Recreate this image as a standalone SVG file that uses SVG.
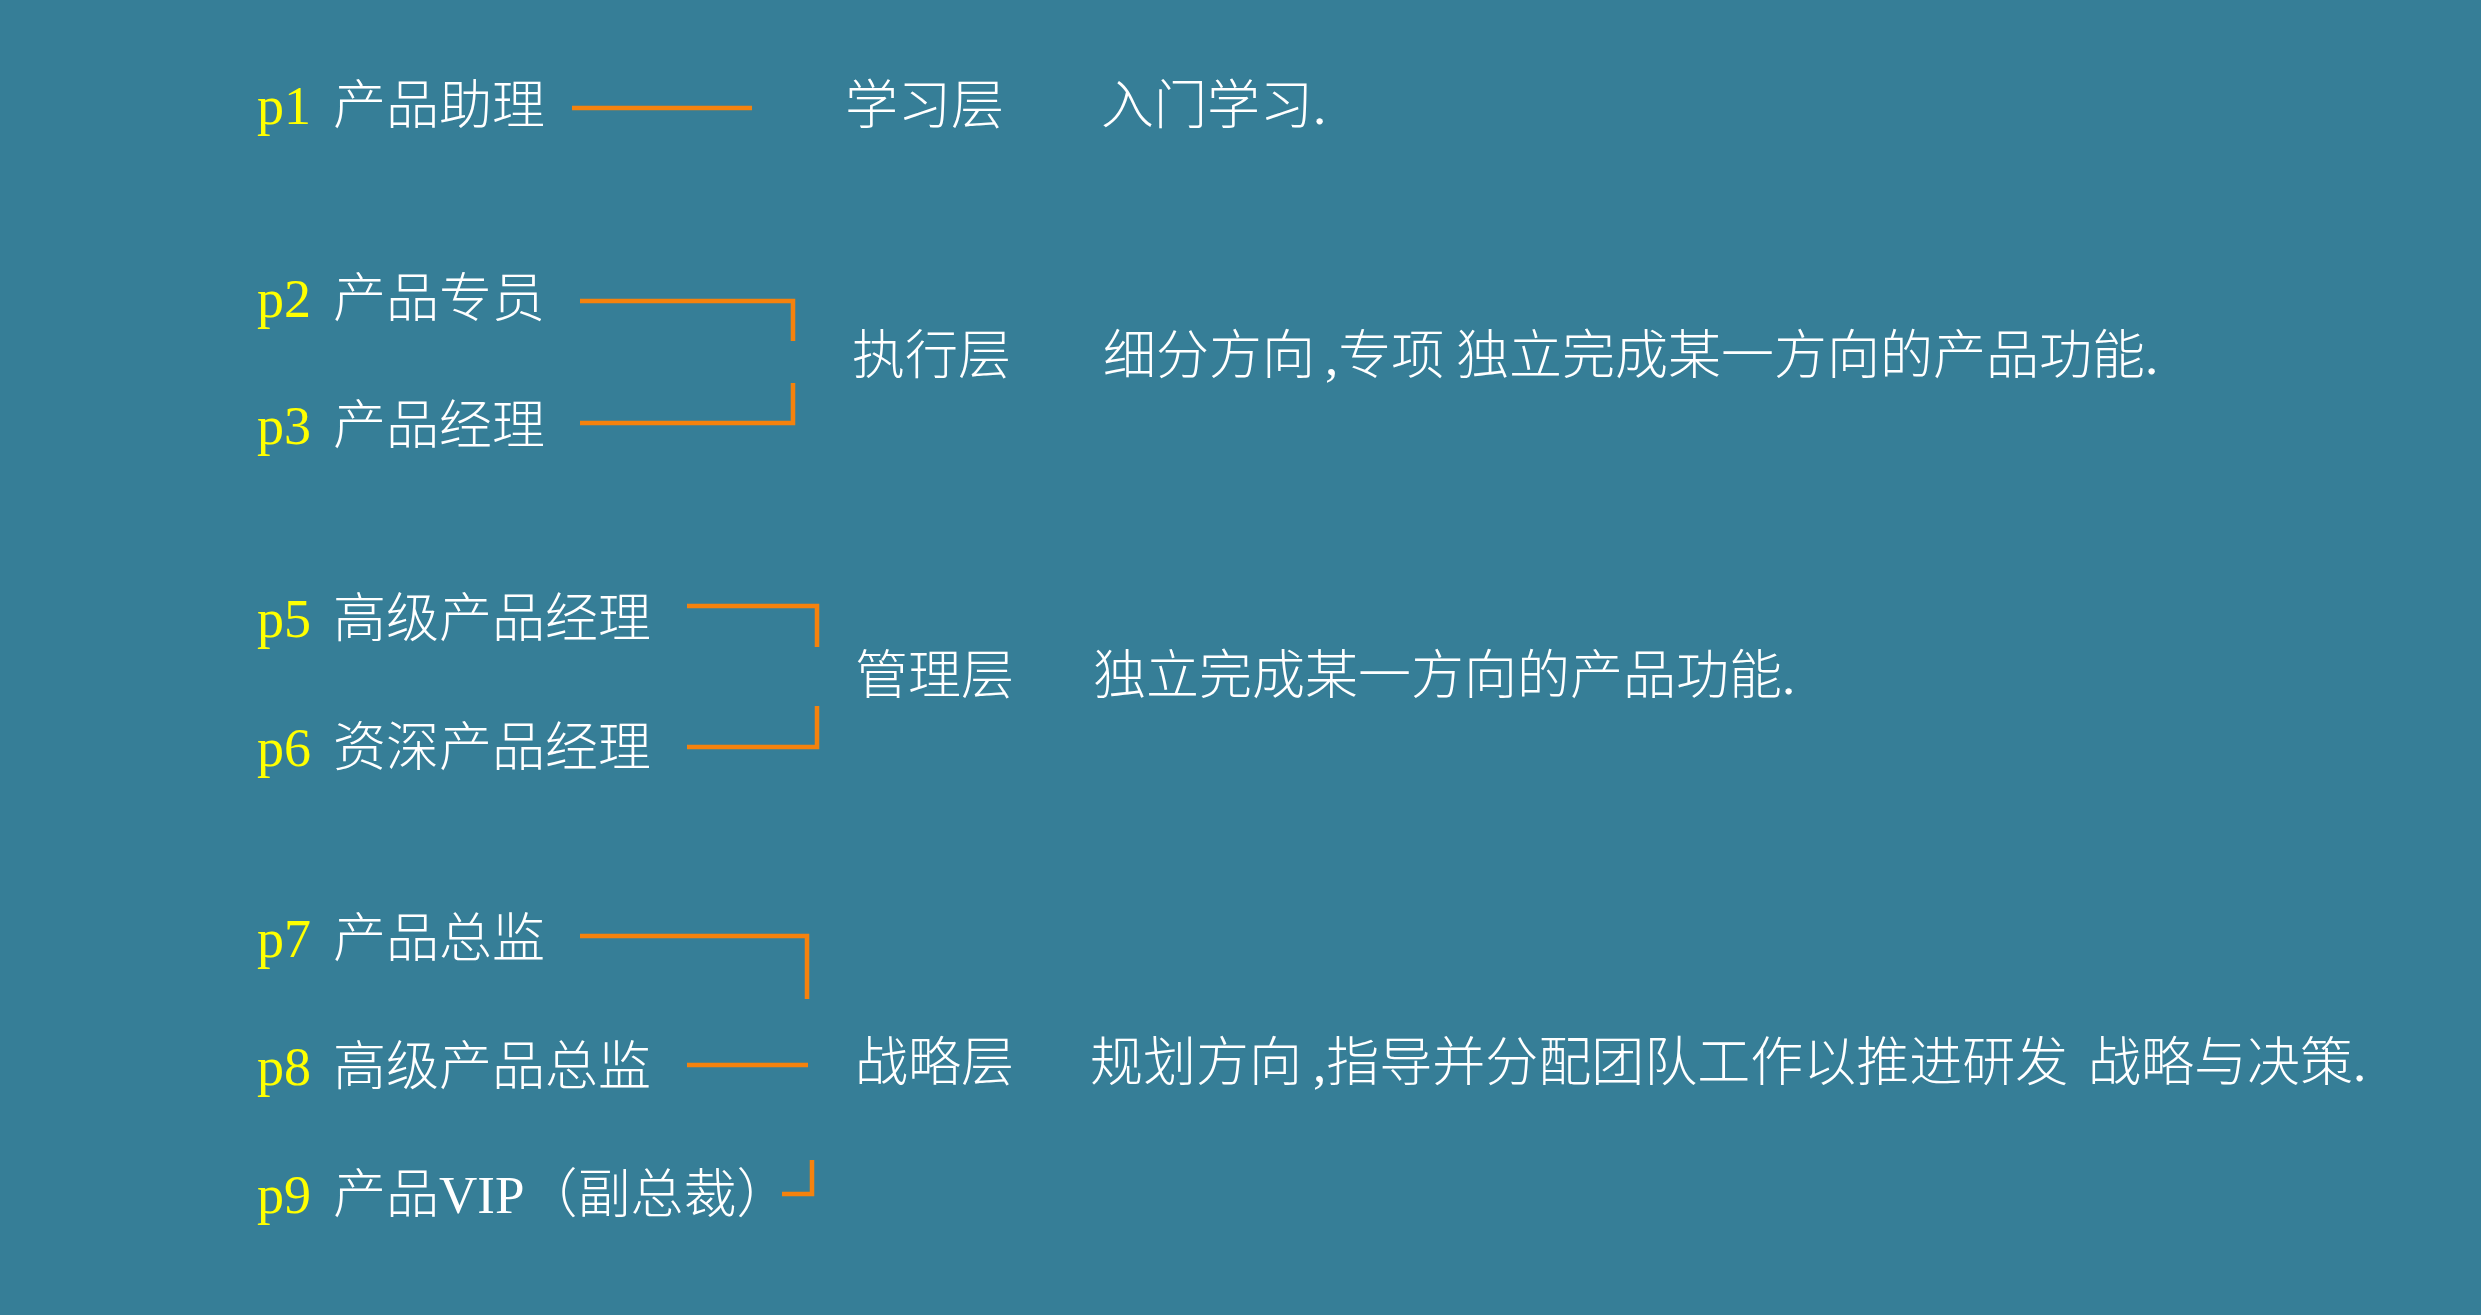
<svg xmlns="http://www.w3.org/2000/svg" width="2481" height="1315" viewBox="0 0 2481 1315">
<style>
.t{font-family:"Liberation Serif","Noto Sans CJK SC",serif;font-size:53px;fill:#FFFFFF;font-weight:300}
.p{font-family:"Liberation Serif","Noto Sans CJK SC",serif;font-size:54px;fill:#FFFF00}
.c{fill:none;stroke:#F5820D;stroke-width:4.5;stroke-linejoin:miter;stroke-linecap:butt}
</style>
<rect x="0" y="0" width="2481" height="1315" fill="#367E97"/>
<g id="connectors">
<polyline class="c" points="572,108 752,108"/>
<polyline class="c" points="580,301 793,301 793,341"/>
<polyline class="c" points="793,383 793,423 580,423"/>
<polyline class="c" points="687,606 817,606 817,647"/>
<polyline class="c" points="817,706 817,747 687,747"/>
<polyline class="c" points="580,936 807,936 807,999"/>
<polyline class="c" points="687,1065 808,1065"/>
<polyline class="c" points="812,1160 812,1194 782,1194"/>
</g>
<g id="node-p1"><text class="p" x="257" y="124">p1</text><text class="t" x="333" y="124">产品助理</text></g>
<g id="node-p2"><text class="p" x="257" y="317">p2</text><text class="t" x="333" y="317">产品专员</text></g>
<g id="node-p3"><text class="p" x="257" y="444">p3</text><text class="t" x="333" y="444">产品经理</text></g>
<g id="node-p5"><text class="p" x="257" y="637">p5</text><text class="t" x="333" y="637">高级产品经理</text></g>
<g id="node-p6"><text class="p" x="257" y="766">p6</text><text class="t" x="333" y="766">资深产品经理</text></g>
<g id="node-p7"><text class="p" x="257" y="957">p7</text><text class="t" x="333" y="957">产品总监</text></g>
<g id="node-p8"><text class="p" x="257" y="1085">p8</text><text class="t" x="333" y="1085">高级产品总监</text></g>
<g id="node-p9"><text class="p" x="257" y="1213">p9</text><text class="t" x="333" y="1213">产品VIP（副总裁）</text></g>
<g id="layer-study"><text class="t" x="845" y="124">学习层</text><text class="t" x="1101" y="124">入门学习.</text></g>
<g id="layer-exec"><text class="t" x="852" y="374">执行层</text><text class="t" y="374"><tspan x="1103">细分方向 </tspan><tspan x="1325">,专项 </tspan><tspan x="1456">独立完成某一方向的产品功能.</tspan></text></g>
<g id="layer-manage"><text class="t" x="855" y="694">管理层</text><text class="t" x="1093" y="694">独立完成某一方向的产品功能.</text></g>
<g id="layer-strategy"><text class="t" x="855" y="1081">战略层</text><text class="t" y="1081"><tspan x="1090">规划方向 </tspan><tspan x="1313">,指导并分配团队工作以推进研发 </tspan><tspan x="2088">战略与决策.</tspan></text></g>
</svg>
